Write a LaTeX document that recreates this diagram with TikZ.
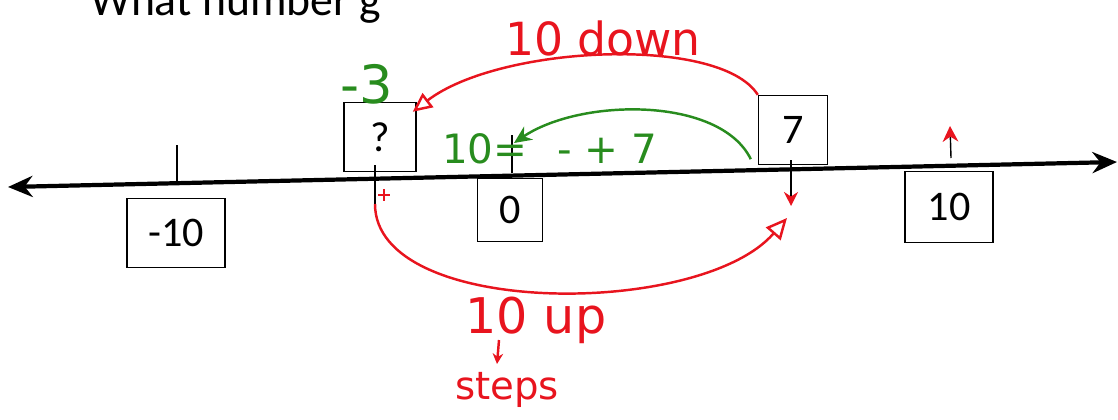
\documentclass[tikz,border=0pt]{standalone}
\usepackage{fontspec}
\setmainfont{Carlito}
\newfontfamily\handfont{DejaVu Sans}
\usetikzlibrary{arrows.meta,positioning,calc}
\definecolor{penred}{RGB}{232,20,30}
\definecolor{pengreen}{RGB}{40,140,30}

\begin{document}
\begin{tikzpicture}[
        x=0.02cm, y=-0.02cm,
        numbox/.style={rectangle, draw=black, thick, minimum height=1.38cm, inner sep=0pt, font=\fontsize{24}{28}\selectfont},
        tickmark/.style={draw=black, thick},
        numline/.style={draw=black, line width=2.4pt, {Stealth[length=14pt,width=12pt]}-{Stealth[length=14pt,width=12pt]}},
        redpen/.style={draw=penred, line width=1.4pt},
        greenpen/.style={draw=pengreen, line width=1.4pt},
        hand/.style={font=\handfont\fontsize{#1}{#1}\selectfont}
    ]
    \useasboundingbox (0,0) rectangle (1118,419);

    % Question
    \node[anchor=base west, inner sep=0pt, font=\fontsize{26}{30}\selectfont] (question) at (90,15) {What number g};

    % Number line
    \coordinate (lineL) at (8,187);
    \coordinate (lineR) at (1117,162);
    \draw[numline] (lineL) -- (lineR);

    % Ticks
    \coordinate (tm10) at (177,145);
    \coordinate (tq) at (375,165);
    \coordinate (tqb) at (375,204);
    \coordinate (t0) at (512,135);
    \coordinate (t7) at (791,160);
    \coordinate (t7b) at (791,206);
    \coordinate (t10) at (951,158);
    \coordinate (t10top) at (950,126);
    \draw[tickmark] (tm10) -- ++(0,37);
    \draw[tickmark] (tq) -- (tqb);
    \draw[tickmark] (t0) -- ++(0,38);
    \draw[tickmark, -{Stealth[penred,length=8pt,width=8pt]}] (t7) -- (t7b);
    \draw[tickmark, -{Stealth[penred,length=9pt,width=9pt]}] (t10) -- (t10top);

    % Boxes
    \node[numbox, minimum width=1.96cm] (bm10) at (176,233) {-10};
    \node[numbox, minimum width=1.44cm] (bq) at (380,137) {?};
    \node[numbox, minimum width=1.3cm, minimum height=1.26cm] (b0) at (510,210) {0};
    \node[numbox, minimum width=1.38cm] (b7) at (793,130) {7};
    \node[numbox, minimum width=1.76cm, minimum height=1.42cm] (b10) at (949,207) {10};

    % Working out
    \node[hand=30, text=pengreen, inner sep=0pt] (minus3) at (367,84) {-3};
    \node[hand=23, text=pengreen, anchor=base west] (sum) at (436,163) {10=\hspace{0.6cm}- + 7};
    \draw[greenpen, -{Stealth[length=10pt,width=9pt]}] ([shift={(-7,-6)}]b7.south west) .. controls (720,96) and (580,98) .. ([shift={(2,8)}]t0);
    \draw[redpen, -{Triangle[open,length=11pt,width=10pt]}] (b7.north west) .. controls (720,35) and (500,45) .. ([shift={(-4,10)}]bq.north east);
    \node[hand=26, text=penred] (down) at (603,38) {10 down};
    \draw[redpen] ([shift={(3,-9)}]tqb) -- ++(12,0) ([shift={(9,-15)}]tqb) -- ++(0,12);
    \draw[redpen, -{Triangle[open,length=12pt,width=11pt]}] (tqb) .. controls (375,318) and (700,318) .. ([shift={(-4,12)}]t7b);
    \node[hand=28, text=penred] (up) at (536,320) {10 up};
    \node[hand=22, text=penred] (steps) at (507,390) {steps};
    \draw[redpen, -{Stealth[length=6pt,width=6pt]}] (499,340) -- (497,364);

\end{tikzpicture}
\end{document}
